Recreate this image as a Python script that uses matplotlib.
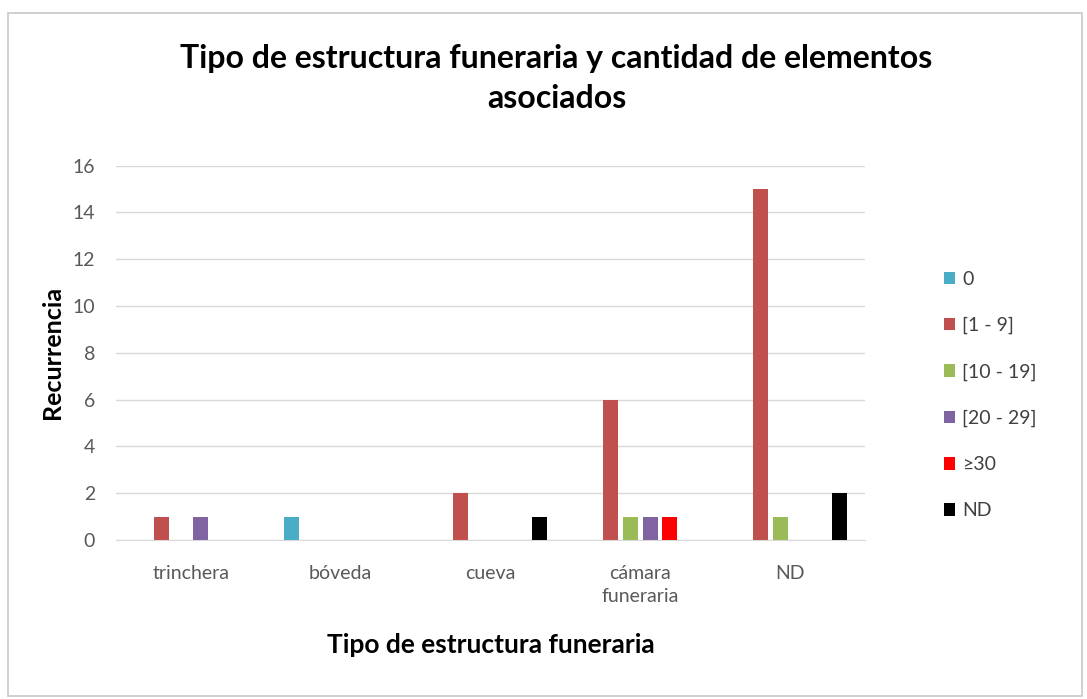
import numpy as np
import matplotlib.pyplot as plt
from matplotlib.patches import Rectangle

plt.rcParams['font.family'] = ['Lato', 'DejaVu Sans']

categorias = ["trinchera", "bóveda", "cueva", "cámara\nfuneraria", "ND"]
series = ["0", "[1 - 9]", "[10 - 19]", "[20 - 29]", "≥30", "ND"]
v_0 = [0, 1, 0, 0, 0]
v_1_9 = [1, 0, 2, 6, 15]
v_10_19 = [0, 0, 0, 1, 1]
v_20_29 = [1, 0, 0, 1, 0]
v_30 = [0, 0, 0, 1, 0]
v_nd = [0, 0, 1, 0, 2]
valores = [v_0, v_1_9, v_10_19, v_20_29, v_30, v_nd]
colores = ["#4BACC6", "#C0504D", "#9BBB59", "#8064A2", "#FF0000", "#000000"]

fig = plt.figure(figsize=(10.87, 6.99), dpi=100)
ax = fig.add_axes([0.1067, 0.2275, 0.689, 0.5356])

# marco del gráfico
fig.patches.append(Rectangle((0.007, 0.004), 0.988, 0.978, transform=fig.transFigure,
                             fill=False, edgecolor="#C8C8C8", linewidth=1.2))

x = np.arange(len(categorias))
paso = 0.132
ancho = 0.1
for i, (nombre, vals, c) in enumerate(zip(series, valores, colores)):
    ax.bar(x + (i - 2.5) * paso, vals, width=ancho, color=c, label=nombre, zorder=3)

ax.set_xlim(-0.5, len(categorias) - 0.5)
ax.set_ylim(0, 16)
ax.set_yticks(range(0, 17, 2))
ax.set_xticks(x)
ax.set_xticklabels(categorias, linespacing=1.45)
ax.grid(axis="y", color="#D9D9D9", linewidth=1, zorder=0)
for s in ["top", "right", "left"]:
    ax.spines[s].set_visible(False)
ax.spines["bottom"].set_color("#D9D9D9")
ax.tick_params(axis="both", length=0, labelsize=14, labelcolor="#595959")
ax.tick_params(axis="x", pad=18)
ax.tick_params(axis="y", pad=15)

ax.set_ylabel("Recurrencia", fontsize=18, fontweight="bold", labelpad=6)
ax.set_xlabel("Tipo de estructura funeraria", fontsize=19, fontweight="bold", labelpad=20)

fig.text(0.512, 0.917, "Tipo de estructura funeraria y cantidad de elementos",
         ha="center", va="center", fontsize=23, fontweight="bold")
fig.text(0.512, 0.859, "asociados", ha="center", va="center", fontsize=23, fontweight="bold")

fig.legend(loc="upper left", bbox_to_anchor=(0.852, 0.638), frameon=False,
           fontsize=14, handlelength=0.6, handleheight=0.6, handletextpad=0.35,
           labelspacing=1.5, labelcolor="#404040")

fig.savefig("out.png", dpi=100, facecolor="white")
